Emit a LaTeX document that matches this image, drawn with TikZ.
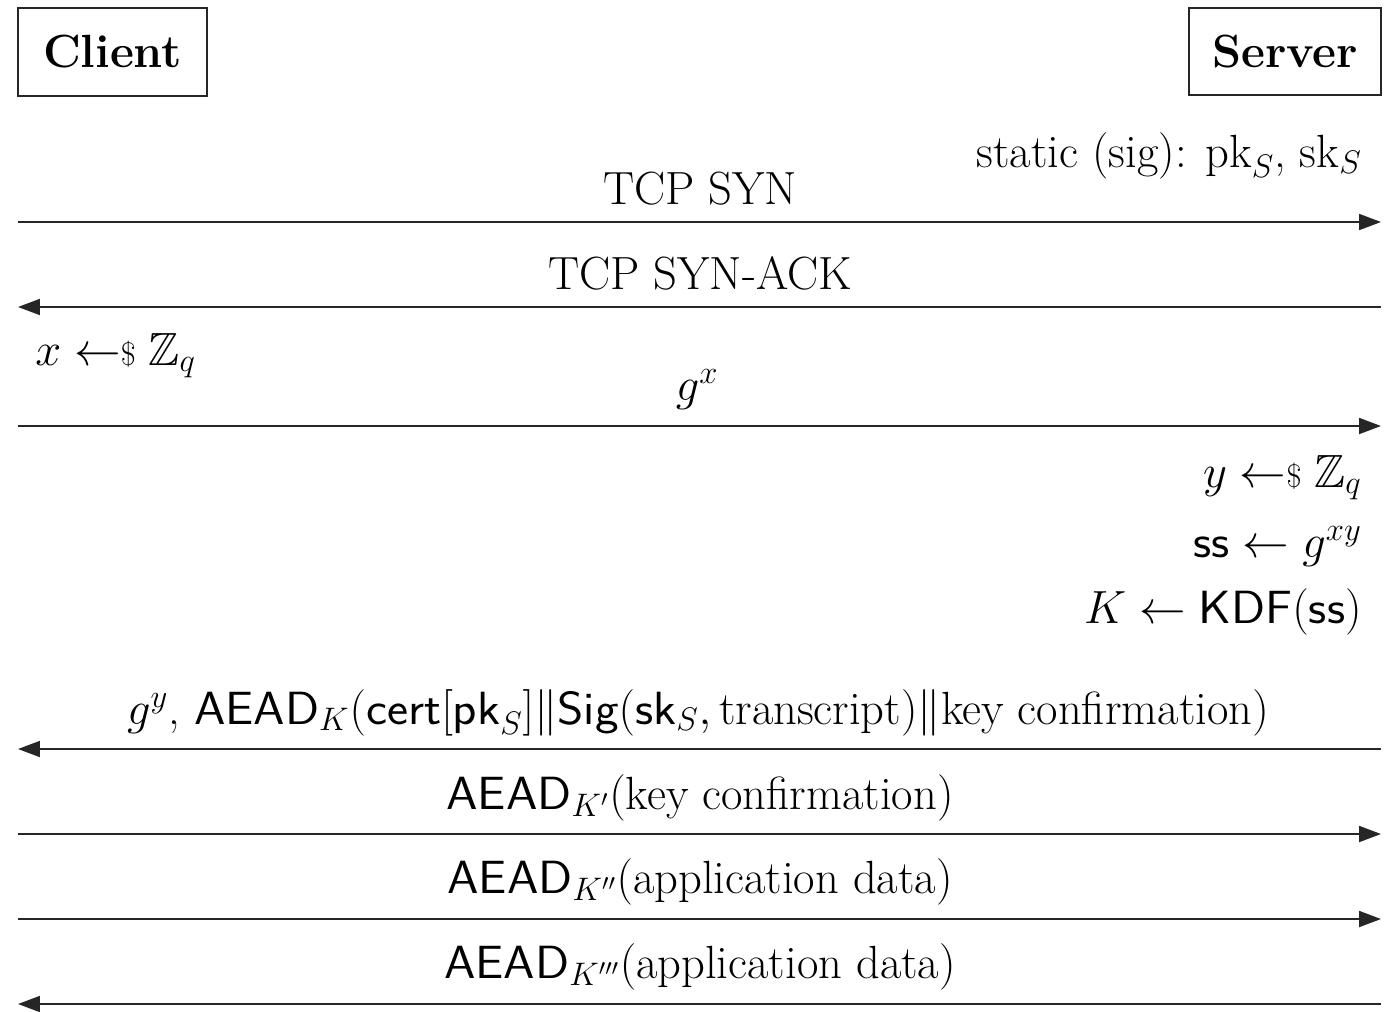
\RequirePackage{fix-cm}
\documentclass[tikz,border=0pt]{standalone}
\usepackage{amsmath,amssymb}
\usepackage{graphicx}
\usepackage{fontspec}
\usetikzlibrary{arrows.meta}
\newcommand{\smpl}{\mathrel{\leftarrow\mkern-5mu{\scriptstyle\$}}}
\newcommand{\msf}[1]{\text{\sffamily\scalebox{1.08}[1]{#1}}}
\begin{document}
\begin{tikzpicture}[x=0.02cm,y=-0.02cm,
  lbl/.style={font=\fontsize{26.5}{30}\selectfont, inner sep=0pt},
  party/.style={draw=black!85, line width=1.1pt, inner sep=0pt, font=\fontsize{26.5}{30}\selectfont\bfseries},
  msg/.style={line width=1.1pt, draw=black!85, -{Triangle[length=0.44cm,width=0.32cm]}}]
\useasboundingbox (0,0) rectangle (1388,1011);

\node[party, minimum width=3.78cm, minimum height=1.76cm] (client) at (112.5,52) {Client};
\node[party, minimum width=3.84cm, minimum height=1.74cm] (server) at (1285,51.5) {Server};

\node[lbl, anchor=base east] (static) at (1362,167) {static (sig): $\mathrm{pk}_S$, $\mathrm{sk}_S$};

\node[lbl, anchor=base] (m1) at (700,204) {TCP SYN};
\coordinate (a1l) at (18,222); \coordinate (a1r) at (1381,222);
\draw[msg] (a1l) -- (a1r);

\node[lbl, anchor=base] (m2) at (700,289) {TCP SYN-ACK};
\coordinate (a2l) at (18,307); \coordinate (a2r) at (1381,307);
\draw[msg] (a2r) -- (a2l);

\node[lbl, anchor=base west] (cx) at (35,365) {$x \smpl \mathbb{Z}_q$};

\node[lbl, anchor=base] (m3) at (697,400) {$g^x$};
\coordinate (a3l) at (18,426); \coordinate (a3r) at (1381,426);
\draw[msg] (a3l) -- (a3r);

\node[lbl, anchor=base east] (sy) at (1362,487) {$y \smpl \mathbb{Z}_q$};
\node[lbl, anchor=base east] (sss) at (1362,557) {$\msf{ss} \leftarrow g^{xy}$};
\node[lbl, anchor=base east] (sk) at (1362,623) {$K \leftarrow \msf{KDF}(\msf{ss})$};

\node[lbl, anchor=base] (m4) at (698,724) {$g^y$, $\msf{AEAD}_K(\msf{cert}[\msf{pk}_S]\|\msf{Sig}(\msf{sk}_S,\text{transcript})\|\text{key confirmation})$};
\coordinate (a4l) at (18,749); \coordinate (a4r) at (1381,749);
\draw[msg] (a4r) -- (a4l);

\node[lbl, anchor=base] (m5) at (700,809) {$\msf{AEAD}_{K'}(\text{key confirmation})$};
\coordinate (a5l) at (18,834); \coordinate (a5r) at (1381,834);
\draw[msg] (a5l) -- (a5r);

\node[lbl, anchor=base] (m6) at (700,893) {$\msf{AEAD}_{K''}(\text{application data})$};
\coordinate (a6l) at (18,919); \coordinate (a6r) at (1381,919);
\draw[msg] (a6l) -- (a6r);

\node[lbl, anchor=base] (m7) at (700,978) {$\msf{AEAD}_{K'''}(\text{application data})$};
\coordinate (a7l) at (18,1004); \coordinate (a7r) at (1381,1004);
\draw[msg] (a7r) -- (a7l);
\end{tikzpicture}
\end{document}
